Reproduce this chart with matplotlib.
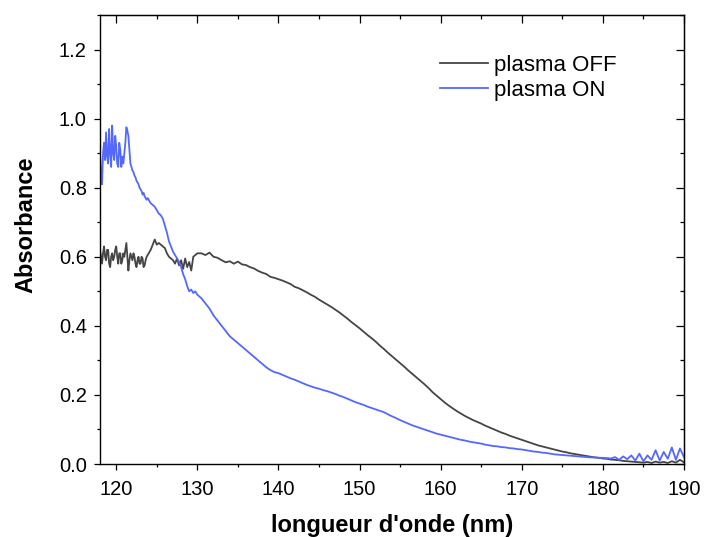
import numpy as np
import matplotlib
matplotlib.use('Agg')
import matplotlib.pyplot as plt
from matplotlib.ticker import MultipleLocator

plt.rcParams['font.family'] = ['Liberation Sans', 'DejaVu Sans']

# wavelength grid: fine steps in the noisy UV part, coarser afterwards
wl_a = np.round(np.arange(118.0, 124.001, 0.125), 3)
wl_b = np.round(np.arange(124.25, 130.001, 0.25), 3)
wl_c = np.round(np.arange(130.5, 190.01, 0.5), 3)
wavelength = np.concatenate([wl_a, wl_b, wl_c])

# plasma OFF (dark grey)
off_a = [0.62, 0.60, 0.58, 0.61, 0.63, 0.60, 0.59, 0.62, 0.62, 0.58,
         0.57, 0.60, 0.61, 0.59, 0.60, 0.62, 0.63, 0.60, 0.58, 0.61,
         0.61, 0.58, 0.59, 0.61, 0.60, 0.62, 0.64, 0.60, 0.56, 0.59,
         0.61, 0.60, 0.59, 0.61, 0.60, 0.58, 0.57, 0.59, 0.60, 0.58,
         0.58, 0.60, 0.595, 0.57, 0.575, 0.59, 0.60, 0.605, 0.61]
off_b = [0.62, 0.635, 0.65, 0.635, 0.64, 0.635, 0.63, 0.625, 0.61, 0.60,
         0.595, 0.59, 0.58, 0.595, 0.575, 0.59, 0.565, 0.595, 0.57, 0.585,
         0.56, 0.60, 0.605, 0.61]
off_c = [0.61, 0.605, 0.612, 0.60, 0.597, 0.59, 0.584, 0.587, 0.58, 0.586,
         0.578, 0.576, 0.57, 0.566, 0.559, 0.554, 0.55, 0.542, 0.539, 0.535,
         0.531, 0.526, 0.521, 0.513, 0.509, 0.503, 0.497, 0.49, 0.484, 0.476,
         0.469, 0.462, 0.455, 0.447, 0.439, 0.43, 0.421, 0.411, 0.402, 0.393,
         0.383, 0.373, 0.364, 0.354, 0.343, 0.333, 0.322, 0.312, 0.302, 0.292,
         0.282, 0.271, 0.261, 0.251, 0.241, 0.231, 0.22, 0.208, 0.198, 0.188,
         0.178, 0.169, 0.161, 0.153, 0.146, 0.139, 0.133, 0.127, 0.122, 0.117,
         0.111, 0.106, 0.101, 0.096, 0.091, 0.087, 0.082, 0.078, 0.074, 0.07,
         0.066, 0.062, 0.058, 0.054, 0.051, 0.048, 0.045, 0.042, 0.039, 0.036,
         0.034, 0.031, 0.029, 0.027, 0.025, 0.023, 0.021, 0.019, 0.018, 0.016,
         0.015, 0.013, 0.012, 0.011, 0.009, 0.008, 0.007, 0.006, 0.005, 0.004,
         0.006, 0.003, 0.007, 0.004, 0.006, 0.003, 0.008, 0.004, 0.012, 0.005]

# plasma ON (blue)
on_a = [0.90, 0.84, 0.81, 0.90, 0.93, 0.88, 0.96, 0.89, 0.87, 0.97,
        0.90, 0.86, 0.98, 0.90, 0.88, 0.95, 0.92, 0.87, 0.86, 0.93,
        0.91, 0.86, 0.89, 0.87, 0.90, 0.93, 0.975, 0.965, 0.95, 0.91,
        0.87, 0.86, 0.85, 0.845, 0.835, 0.83, 0.82, 0.815, 0.81, 0.80,
        0.795, 0.79, 0.78, 0.785, 0.775, 0.77, 0.765, 0.77, 0.765]
on_b = [0.755, 0.75, 0.745, 0.735, 0.725, 0.72, 0.71, 0.69, 0.67, 0.645,
        0.63, 0.615, 0.605, 0.595, 0.585, 0.57, 0.55, 0.535, 0.515, 0.50,
        0.505, 0.495, 0.50, 0.49]
on_c = [0.48, 0.465, 0.45, 0.43, 0.415, 0.40, 0.385, 0.37, 0.36, 0.35,
        0.34, 0.33, 0.32, 0.31, 0.30, 0.29, 0.28, 0.272, 0.266, 0.263,
        0.258, 0.253, 0.248, 0.244, 0.239, 0.234, 0.229, 0.225, 0.221, 0.218,
        0.214, 0.211, 0.207, 0.203, 0.198, 0.194, 0.189, 0.184, 0.179, 0.175,
        0.171, 0.166, 0.162, 0.158, 0.154, 0.15, 0.144, 0.138, 0.133, 0.127,
        0.122, 0.117, 0.112, 0.108, 0.104, 0.10, 0.096, 0.092, 0.088, 0.085,
        0.082, 0.079, 0.076, 0.073, 0.07, 0.068, 0.065, 0.063, 0.061, 0.059,
        0.056, 0.054, 0.052, 0.051, 0.049, 0.048, 0.046, 0.045, 0.043, 0.042,
        0.04, 0.038, 0.036, 0.035, 0.033, 0.032, 0.03, 0.028, 0.027, 0.026,
        0.025, 0.024, 0.023, 0.022, 0.021, 0.02, 0.019, 0.019, 0.018, 0.018,
        0.017, 0.016, 0.02, 0.012, 0.022, 0.014, 0.025, 0.01, 0.03, 0.008,
        0.025, 0.012, 0.04, 0.01, 0.035, 0.015, 0.048, 0.012, 0.045, 0.02]

absorb_off = np.array(off_a + off_b + off_c)
absorb_on = np.array(on_a + on_b + on_c)

fig = plt.figure(figsize=(7.05, 5.37), dpi=100)
ax = fig.add_axes([100 / 705, 73 / 537, 584 / 705, 449 / 537])

ax.plot(wavelength, absorb_off, color='#454545', lw=1.3, label='plasma OFF')
ax.plot(wavelength, absorb_on, color='#5468ff', lw=1.3, label='plasma ON')

ax.set_xlim(118, 190)
ax.set_ylim(0, 1.3)
ax.xaxis.set_major_locator(MultipleLocator(10))
ax.xaxis.set_minor_locator(MultipleLocator(5))
ax.yaxis.set_major_locator(MultipleLocator(0.2))
ax.yaxis.set_minor_locator(MultipleLocator(0.1))
ax.yaxis.set_major_formatter(plt.FormatStrFormatter('%.1f'))

ax.tick_params(which='both', direction='out', labelsize=14.5, width=0.9)
ax.tick_params(which='major', length=4.5)
ax.tick_params(which='minor', length=2.5)
ax.tick_params(axis='x', pad=7)
ax.tick_params(axis='y', pad=5)

# mirrored ticks on top/right, pointing in
top = ax.secondary_xaxis('top')
top.set_xticks(np.arange(120, 191, 10))
top.xaxis.set_minor_locator(MultipleLocator(5))
top.tick_params(which='both', direction='in', labeltop=False, width=0.9)
top.tick_params(which='major', length=5.5)
top.tick_params(which='minor', length=3)
right = ax.secondary_yaxis('right')
right.set_yticks(np.arange(0, 1.31, 0.2))
right.yaxis.set_minor_locator(MultipleLocator(0.1))
right.tick_params(which='both', direction='in', labelright=False, width=0.9)
right.tick_params(which='major', length=5.5)
right.tick_params(which='minor', length=3)

for sp in ax.spines.values():
    sp.set_linewidth(1.0)

ax.set_xlabel("longueur d'onde (nm)", fontsize=17, fontweight='bold')
ax.set_ylabel('Absorbance', fontsize=17, fontweight='bold')
ax.xaxis.set_label_coords(0.5, -0.112)
ax.yaxis.set_label_coords(-0.108, 0.532)

ax.legend(loc='upper left', bbox_to_anchor=(0.582, 0.912), frameon=False,
          fontsize=16, handlelength=2.15, handletextpad=0.27,
          labelspacing=0.2, borderpad=0, borderaxespad=0)

fig.savefig('out.png', dpi=100)
